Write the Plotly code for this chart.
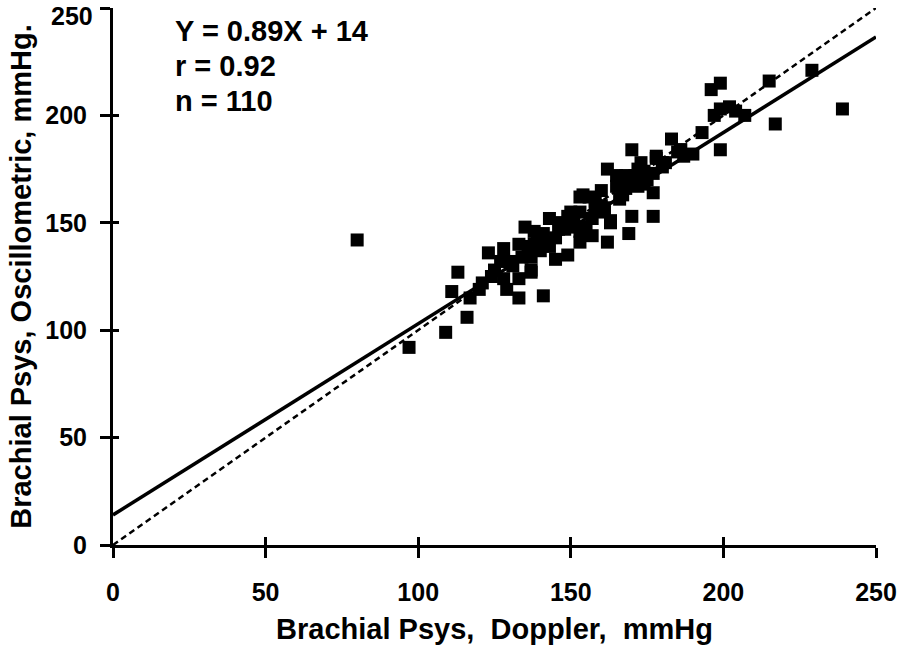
import plotly.graph_objects as go

# Scatter data (Doppler X, Oscillometric Y), mmHg
doppler = [80, 97, 109, 111, 113, 116, 117, 120, 121, 123, 124, 127, 128, 128, 129,
           130, 133, 133, 134, 135, 137, 137, 137, 138, 139, 140, 141, 143, 143, 145,
           146, 147, 149, 149, 150, 151, 153, 153, 153, 153, 154, 155, 156, 157, 157,
           158, 160, 160, 161, 162, 162, 163, 163, 165, 165, 166, 167, 168, 168, 169,
           170, 170, 170, 172, 172, 173, 174, 175, 177, 177, 177, 178, 178, 180, 181,
           183, 185, 186, 187, 190, 193, 196, 197, 199, 199, 199, 202, 204, 207, 215,
           217, 229, 239, 125, 133, 138, 145, 147, 151, 158, 161, 167, 174, 180, 186,
           141, 136, 131, 148, 171]
oscillo = [142, 92, 99, 118, 127, 106, 115, 119, 122, 136, 125, 132, 138, 124, 119,
           132, 124, 115, 134, 148, 128, 134, 127, 140, 142, 137, 116, 152, 139, 133,
           147, 150, 135, 153, 155, 148, 162, 155, 146, 141, 163, 148, 162, 152, 144,
           158, 158, 165, 155, 175, 141, 151, 150, 167, 172, 161, 163, 172, 166, 145,
           184, 153, 170, 167, 175, 178, 168, 170, 164, 173, 153, 181, 180, 176, 178,
           189, 183, 184, 181, 182, 192, 212, 200, 215, 203, 184, 204, 202, 200, 216,
           196, 221, 203, 128, 140, 146, 143, 150, 150, 160, 157, 167, 174, 178, 184,
           145, 139, 130, 147, 172]

# Regression and identity
slope, intercept = 0.89, 14
line_x = [0, 250]
reg_y = [slope * v + intercept for v in line_x]
ident_y = list(line_x)

tick_vals = [0, 50, 100, 150, 200, 250]
annot_lines = ["Y = 0.89X + 14", "r = 0.92", "n = 110"]

FONT = "Liberation Sans, Arial, sans-serif"

fig = go.Figure()
fig.add_trace(go.Scatter(x=line_x, y=ident_y, mode="lines",
                         line=dict(color="black", width=2.5, dash="6px,4px"),
                         hoverinfo="skip", showlegend=False))
fig.add_trace(go.Scatter(x=line_x, y=reg_y, mode="lines",
                         line=dict(color="black", width=3.5),
                         hoverinfo="skip", showlegend=False))
fig.add_trace(go.Scatter(x=doppler, y=oscillo, mode="markers",
                         marker=dict(symbol="square", size=13, color="black",
                                     line=dict(width=0)),
                         showlegend=False, cliponaxis=False))
# overlay trace on secondary axes to show inside ticks
fig.add_trace(go.Scatter(x=[None], y=[None], xaxis="x2", yaxis="y2", showlegend=False))

axis_common = dict(tickvals=tick_vals, showgrid=False, zeroline=False,
                   showline=True, linecolor="black", linewidth=3,
                   ticks="outside", ticklen=10, tickwidth=2.5, tickcolor="black")

fig.update_layout(
    width=905, height=655,
    margin=dict(l=113, r=27, t=8, b=110),
    plot_bgcolor="white", paper_bgcolor="white",
    font=dict(family=FONT, color="black"),
    xaxis=dict(**axis_common, range=[0, 250],
               tickfont=dict(family=FONT, size=25, weight="bold"),
               ticklabelstandoff=13,
               title=dict(text="<b>Brachial Psys,  Doppler,  mmHg</b>",
                          font=dict(family=FONT, size=29), standoff=14)),
    yaxis=dict(**axis_common, range=[0, 250],
               tickfont=dict(family=FONT, size=25, weight="bold"),
               ticklabelstandoff=8,
               title=dict(text="<b>Brachial Psys, Oscillometric, mmHg.</b>",
                          font=dict(family=FONT, size=29), standoff=6)),
    xaxis2=dict(range=[0, 250], tickvals=tick_vals, overlaying="x", anchor="y",
                side="bottom", showgrid=False, zeroline=False, showline=False,
                ticks="inside", ticklen=8, tickwidth=2.5, tickcolor="black",
                showticklabels=False),
    yaxis2=dict(range=[0, 250], tickvals=tick_vals, overlaying="y", anchor="x",
                side="left", showgrid=False, zeroline=False, showline=False,
                ticks="inside", ticklen=6, tickwidth=2.5, tickcolor="black",
                showticklabels=False),
)

# top y tick label (kept as text; plotly drops it at the figure edge)
fig.add_annotation(x=0, y=tick_vals[-1], xref="paper", yref="y",
                   text="<b>%d</b>" % tick_vals[-1], showarrow=False,
                   xanchor="right", yanchor="top", xshift=-19, yshift=7,
                   borderpad=0,
                   font=dict(family=FONT, size=25, color="black"))

for i, txt in enumerate(annot_lines):
    fig.add_annotation(x=0.078, y=0.99 - i * 0.065, xref="paper", yref="paper",
                       text="<b>" + txt + "</b>", showarrow=False,
                       xanchor="left", yanchor="top",
                       font=dict(family=FONT, size=29, color="black"))

fig.write_html("out.html")
